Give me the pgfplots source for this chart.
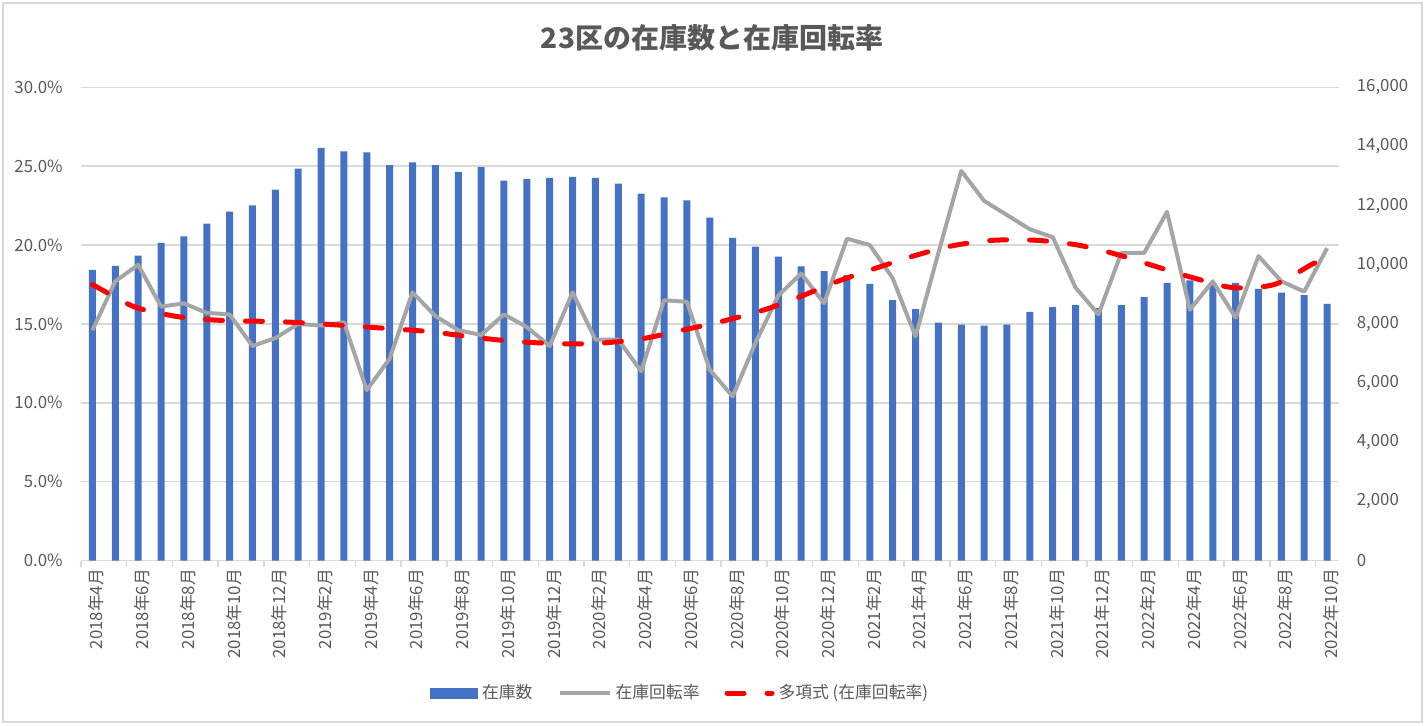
\documentclass[border=0pt]{standalone}
\usepackage{fontspec}
\setmainfont{Noto Sans CJK JP}
\usepackage{pgfplots}
\usepackage{pgfplotstable}
\pgfplotsset{compat=1.18}
\definecolor{barblue}{HTML}{4472C4}
\definecolor{linegray}{HTML}{A5A5A5}
\definecolor{txt}{HTML}{595959}
\definecolor{gridc}{HTML}{D9D9D9}
\definecolor{trendred}{HTML}{FF0000}

\pgfplotstableread{
x stock rate
0 9831 14.6
1 9966 17.7
2 10305 18.75
3 10736 16.1
4 10960 16.3
5 11390 15.7
6 11797 15.6
7 12011 13.6
8 12543 14.1
9 13254 15.0
10 13956 14.9
11 13831 15.1
12 13797 10.8
13 13366 12.8
14 13458 17.0
15 13366 15.5
16 13143 14.6
17 13300 14.3
18 12848 15.6
19 12905 14.8
20 12940 13.6
21 12973 17.0
22 12940 14.0
23 12746 14.0
24 12407 12.0
25 12282 16.5
26 12180 16.4
27 11594 12.1
28 10905 10.4
29 10610 13.8
30 10271 16.8
31 9943 18.2
32 9786 16.3
33 9650 20.4
34 9356 20.0
35 8803 17.9
36 8498 14.2
37 8045 19.5
38 7977 24.7
39 7943 22.8
40 7977 21.9
41 8407 21.0
42 8566 20.5
43 8634 17.3
44 8532 15.6
45 8634 19.5
46 8905 19.5
47 9390 22.1
48 9468 15.9
49 9322 17.7
50 9390 15.4
51 9187 19.3
52 9061 17.7
53 8973 17.05
54 8678 19.8
}\datatable

\pgfplotstableread{
x trend
0 17.5
1 16.7
2 16.0
4 15.4
6 15.2
8 15.15
10 15.0
13 14.7
14.8 14.5
16.7 14.15
18.4 13.9
20.3 13.75
22.1 13.77
24 14.05
25.8 14.6
27.5 15.15
29.3 15.85
30.9 16.7
32.6 17.7
34.2 18.5
35.9 19.3
37.6 19.95
39.4 20.3
41.3 20.3
43.1 20.0
44.7 19.45
46.6 18.6
48.2 17.9
49.9 17.3
51.7 17.5
53.3 18.75
54 19.25
}\trendtable

\begin{document}
\begin{tikzpicture}
\useasboundingbox (0,0) rectangle (712.5pt,362.5pt);
\draw[gridc, line width=0.75pt] (1.5pt,1.5pt) rectangle (711pt,361pt);
\node[txt, font=\fontsize{14}{16}\selectfont\bfseries] at (356pt,343.5pt) {23区の在庫数と在庫回転率};

\pgfplotsset{common/.style={scale only axis, width=628.75pt, height=236.6pt,
  at={(40.5pt,82.25pt)}, anchor=south west, xmin=-0.5, xmax=54.5}}

% axis 1: grid, left labels, x labels
\begin{axis}[common, ymin=0, ymax=30,
  axis x line*=bottom, axis y line*=left,
  y axis line style={draw=none},
  x axis line style={gridc, line width=0.75pt, -},
  ymajorgrids, grid style={gridc, line width=0.75pt},
  ytick={0,5,...,30},
  yticklabels={0.0\%,5.0\%,10.0\%,15.0\%,20.0\%,25.0\%,30.0\%},
  yticklabel style={txt, font=\fontsize{8.4}{10}\selectfont, inner sep=0pt, xshift=-9pt},
  xtick={0,2,...,54},
  xticklabels={2018年4月,2018年6月,2018年8月,2018年10月,2018年12月,
    2019年2月,2019年4月,2019年6月,2019年8月,2019年10月,2019年12月,
    2020年2月,2020年4月,2020年6月,2020年8月,2020年10月,2020年12月,
    2021年2月,2021年4月,2021年6月,2021年8月,2021年10月,2021年12月,
    2022年2月,2022年4月,2022年6月,2022年8月,2022年10月},
  minor xtick={-0.5,1.5,...,53.5},
  every minor x tick/.append style={gridc, line width=0.75pt},
  tick align=outside,
  minor tick length=3pt,
  major tick length=0pt,
  xticklabel style={txt, font=\fontsize{8.4}{10}\selectfont, rotate=90, anchor=east, inner sep=0pt, xshift=-4pt, yshift=-2pt},
]
\addplot[draw=none] coordinates {(0,0)};
\end{axis}

% axis 2: bars on right axis
\begin{axis}[common, ymin=0, ymax=16000,
  axis x line=none, axis y line*=right,
  y axis line style={draw=none},
  ytick={0,2000,...,16000},
  major tick length=0pt,
  scaled y ticks=false,
  yticklabel style={txt, font=\fontsize{8.4}{10}\selectfont, inner sep=0pt, xshift=9pt,
    /pgf/number format/.cd, 1000 sep={,}, assume math mode=true},
]
\addplot[ybar, bar width=3.5pt, fill=barblue, draw=none] table[x=x,y=stock]{\datatable};
\end{axis}

% axis 3: lines
\begin{axis}[common, ymin=0, ymax=30, hide axis,
  legend columns=3,
  legend style={at={(0.2775,-0.28)}, anchor=west, draw=none, fill=none,
    inner sep=0pt, font=\fontsize{8.4}{10}\selectfont, text=txt},
  legend image code/.code={\draw[#1] (0pt,0pt) -- (25pt,0pt);},
]
\addlegendimage{legend image code/.code={\fill[barblue] (0pt,-2.5pt) rectangle (23.5pt,2.5pt);}}
\addlegendentry{在庫数\hspace*{10.5pt}}
\addplot[linegray, line width=2pt, line join=round] table[x=x,y=rate]{\datatable};
\addlegendentry{在庫回転率\hspace*{10.5pt}}
\addplot[trendred, line width=2.5pt, dash pattern=on 8.5pt off 11.5pt, line cap=round, smooth,
  legend image code/.code={\draw[trendred, line width=2.5pt, line cap=round, dash pattern=on 8.5pt off 11.5pt] (1.25pt,0pt) -- (23.75pt,0pt);}]
  table[x=x,y=trend]{\trendtable};
\addlegendentry{多項式 (在庫回転率)}
\end{axis}
\end{tikzpicture}
\end{document}
